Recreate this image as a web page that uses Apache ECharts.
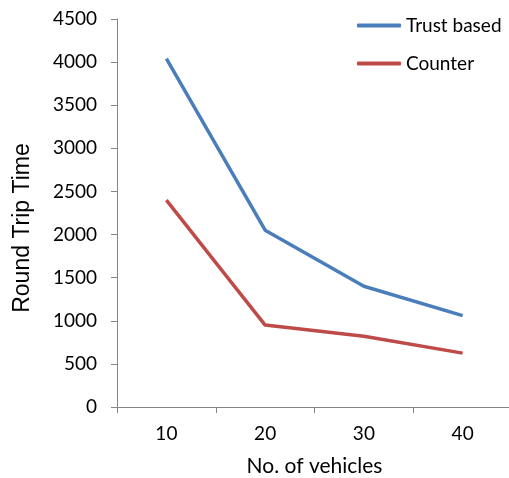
<!DOCTYPE html>
<html>
<head>
<meta charset="utf-8">
<script src="https://cdn.jsdelivr.net/npm/echarts@6/dist/echarts.min.js"></script>
<style>
html,body{margin:0;padding:0;background:#fff;}
#chart{width:509px;height:478px;}
</style>
</head>
<body>
<div id="chart"></div>
<script>
// Number of vehicles on the x axis
const vehicles = ['10', '20', '30', '40'];
// Round trip time per scheme
const trustBased = [4040, 2050, 1400, 1060];
const counter = [2400, 950, 820, 625];

const fontFam = 'Lato, "Open Sans", sans-serif';
const axisGray = '#868686';

const chart = echarts.init(document.getElementById('chart'));
chart.setOption({
  animation: false,
  backgroundColor: '#fff',
  grid: { left: 117, top: 19, width: 395, height: 388, outerBoundsMode: 'none', containLabel: false },
  legend: {
    orient: 'vertical',
    left: 352,
    top: 11,
    itemWidth: 44,
    itemHeight: 4,
    itemGap: 19,
    icon: 'roundRect',
    textStyle: { fontFamily: fontFam, fontSize: 19, color: '#000' },
    data: ['Trust based', 'Counter']
  },
  xAxis: {
    type: 'category',
    data: vehicles,
    boundaryGap: true,
    name: 'No. of vehicles',
    nameLocation: 'middle',
    nameGap: 49,
    nameTextStyle: { fontFamily: fontFam, fontSize: 21, color: '#000' },
    axisLine: { lineStyle: { color: axisGray, width: 1 } },
    axisTick: { show: true, length: 6, alignWithLabel: false, lineStyle: { color: axisGray } },
    axisLabel: { fontFamily: fontFam, fontSize: 19, color: '#000', margin: 17 },
    splitLine: { show: false }
  },
  yAxis: {
    type: 'value',
    min: 0,
    max: 4500,
    interval: 500,
    name: 'Round Trip Time',
    nameLocation: 'middle',
    nameGap: 83,
    nameTextStyle: {
      fontFamily: '"Liberation Sans", Arial, sans-serif', fontSize: 23, color: '#000',
      padding: [0, 30, 0, 0]
    },
    axisLine: { show: true, lineStyle: { color: axisGray, width: 1 } },
    axisTick: { show: true, length: 6, lineStyle: { color: axisGray } },
    axisLabel: {
      fontFamily: fontFam, fontSize: 19, color: '#000', margin: 20,
      formatter: function (v) { return String(v); }
    },
    splitLine: { show: false }
  },
  series: [
    {
      name: 'Trust based',
      type: 'line',
      data: trustBased,
      symbol: 'none',
      color: '#4a7ebb',
      lineStyle: { width: 3.5, color: '#4a7ebb' }
    },
    {
      name: 'Counter',
      type: 'line',
      data: counter,
      symbol: 'none',
      color: '#be4b48',
      lineStyle: { width: 3.5, color: '#be4b48' }
    }
  ]
});
</script>
</body>
</html>
